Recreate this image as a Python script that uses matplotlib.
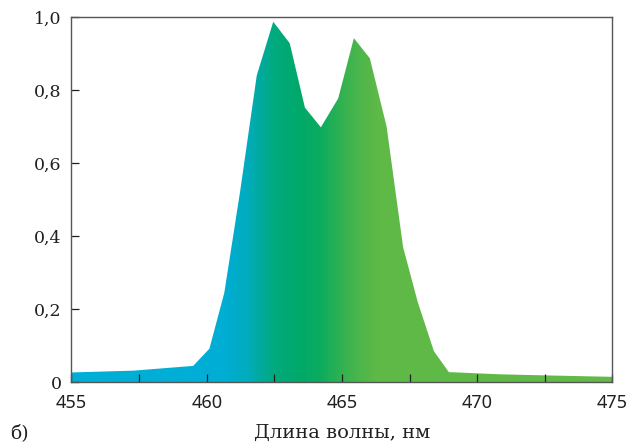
import numpy as np
import matplotlib
matplotlib.use('Agg')
import matplotlib.pyplot as plt
from matplotlib.colors import LinearSegmentedColormap

# spectrum
wavelength = [455.0, 457.3, 459.5, 460.1, 460.65, 461.25, 461.85, 462.46,
              463.07, 463.63, 464.22, 464.86, 465.44, 466.03, 466.65,
              467.26, 467.8, 468.4, 468.95, 470.8, 472.5, 475.0]
intensity = [0.027, 0.032, 0.045, 0.092, 0.245, 0.53, 0.84, 0.987,
             0.928, 0.752, 0.698, 0.777, 0.942, 0.887, 0.70,
             0.37, 0.22, 0.085, 0.028, 0.022, 0.019, 0.015]

x_ticks = [455, 460, 465, 470, 475]
x_minor = [457.5, 462.5, 467.5, 472.5]
y_ticks = [0, 0.2, 0.4, 0.6, 0.8, 1.0]
y_labels = ['0', '0,2', '0,4', '0,6', '0,8', '1,0']

# colour along the wavelength axis
grad_pos = [455.0, 460.0, 460.7, 461.5, 462.0, 462.6, 463.4, 464.2, 464.9, 465.6, 466.3, 475.0]
grad_col = ['#00aed6', '#00aed6', '#00add3', '#00acbc', '#00aa9c', '#00aa7a',
            '#00a96a', '#0bac5e', '#2db153', '#4bb64b', '#5eb947', '#63ba47']

fig = plt.figure(figsize=(6.38, 4.47), dpi=100)
ax = fig.add_axes([0.112, 0.1447, 0.848, 0.8173])

span = grad_pos[-1] - grad_pos[0]
cmap = LinearSegmentedColormap.from_list(
    'spec', [((p - grad_pos[0]) / span, c) for p, c in zip(grad_pos, grad_col)])

poly = ax.fill_between(wavelength, intensity, 0, color='none', lw=0)
xs = np.linspace(455, 475, 800).reshape(1, -1)
img = ax.imshow(xs, cmap=cmap, vmin=455, vmax=475, extent=[455, 475, 0, 1],
                aspect='auto', origin='lower', interpolation='bilinear', zorder=1)
img.set_clip_path(poly.get_paths()[0], transform=ax.transData)

ax.set_xlim(455, 475)
ax.set_ylim(0, 1)

ax.set_xticks(x_ticks)
ax.set_xticks(x_minor, minor=True)
ax.set_yticks(y_ticks)
ax.set_yticklabels(y_labels, family='DejaVu Serif', fontsize=12.5, color='#231f20')
ax.set_xticklabels([str(v) for v in x_ticks], family='Noto Sans', fontsize=13, color='#231f20')

ax.tick_params(axis='x', which='both', direction='in', length=6, width=0.9,
               color='#231f20', pad=8.5, top=False)
ax.tick_params(axis='y', direction='in', length=6, width=0.9, color='#231f20',
               pad=7, right=False)

for s in ax.spines.values():
    s.set_color('#555555')
    s.set_linewidth(1.0)

fig.text(0.016, 0.02, 'б)', family='DejaVu Serif', fontsize=13.5, color='#231f20')
fig.text(0.536, 0.02, 'Длина волны, нм', family='DejaVu Serif', fontsize=14,
         color='#231f20', ha='center')

fig.savefig('out.png', dpi=100)
